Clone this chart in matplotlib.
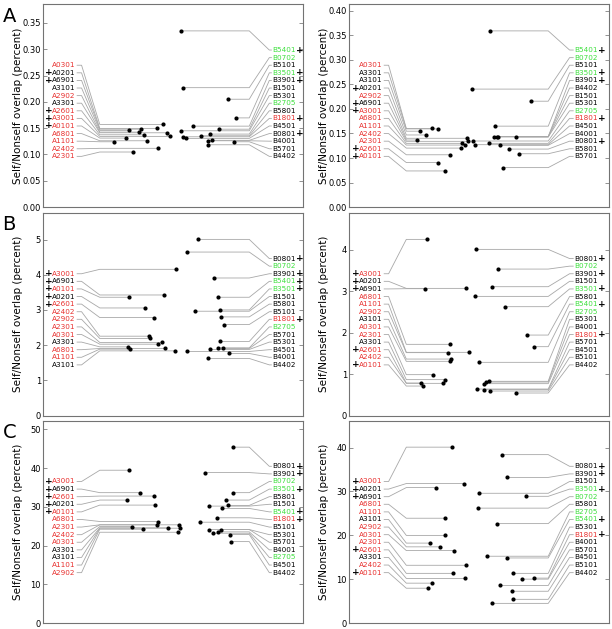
import matplotlib.pyplot as plt

# allele colouring and "+" marks
red_alleles = ['A0301', 'A2902', 'A2601', 'A3001', 'A0101', 'A6801', 'A1101',
               'A2402', 'A2301', 'B1801']
green_alleles = ['B5401', 'B0702', 'B3501', 'B2705']
plus_alleles = ['A0201', 'A6901', 'A2601', 'A3001', 'A0101',
                'B5401', 'B3501', 'B3901', 'B1801', 'B0801']

# ---- panel A, left ----
a1_A_names = ['A0301', 'A0201', 'A6901', 'A3101', 'A2902', 'A3301', 'A2601',
              'A3001', 'A0101', 'A6801', 'A1101', 'A2402', 'A2301']
a1_A_vals = [0.157, 0.1495, 0.148, 0.1457, 0.1425, 0.1412, 0.1374, 0.1343,
             0.1311, 0.126, 0.1241, 0.1116, 0.1046]
a1_A_x = [0.460, 0.439, 0.377, 0.332, 0.369, 0.478, 0.388, 0.488, 0.317,
          0.401, 0.272, 0.443, 0.345]
a1_B_names = ['B5401', 'B0702', 'B5101', 'B3501', 'B3901', 'B1501', 'B5301',
              'B2705', 'B5801', 'B1801', 'B4501', 'B0801', 'B4001', 'B5701', 'B4402']
a1_B_vals = [0.335, 0.227, 0.205, 0.1695, 0.1538, 0.148, 0.145, 0.1387,
             0.1355, 0.1336, 0.1305, 0.1268, 0.126, 0.1241, 0.1184]
a1_B_x = [0.528, 0.539, 0.709, 0.741, 0.575, 0.677, 0.528, 0.641, 0.608,
          0.539, 0.548, 0.649, 0.633, 0.733, 0.635]

# ---- panel A, right ----
a2_A_names = ['A0301', 'A3301', 'A3101', 'A0201', 'A2902', 'A6901', 'A3001',
              'A6801', 'A1101', 'A2402', 'A2301', 'A2601', 'A0101']
a2_A_vals = [0.1602, 0.1594, 0.1547, 0.147, 0.1402, 0.1367, 0.134, 0.1299,
             0.1264, 0.1202, 0.1066, 0.0907, 0.0736]
a2_A_x = [0.317, 0.342, 0.272, 0.297, 0.453, 0.261, 0.457, 0.435, 0.445,
          0.429, 0.387, 0.340, 0.370]
a2_B_names = ['B5401', 'B0702', 'B5101', 'B3501', 'B3901', 'B4402', 'B1501',
              'B5301', 'B2705', 'B1801', 'B4501', 'B4001', 'B0801', 'B5801', 'B5701']
a2_B_vals = [0.3594, 0.2406, 0.2159, 0.165, 0.1437, 0.1437, 0.1429, 0.1429,
             0.1347, 0.1299, 0.1272, 0.1258, 0.1182, 0.1087, 0.0804]
a2_B_x = [0.542, 0.474, 0.699, 0.559, 0.555, 0.574, 0.568, 0.641, 0.476,
          0.539, 0.482, 0.578, 0.615, 0.651, 0.593]

# ---- panel B, left ----
b1_A_names = ['A3001', 'A6901', 'A0101', 'A0201', 'A2601', 'A2402', 'A2902',
              'A2301', 'A0301', 'A3301', 'A6801', 'A1101', 'A3101']
b1_A_vals = [4.156, 3.427, 3.362, 3.058, 2.785, 2.255, 2.19, 2.077, 2.028,
             1.952, 1.906, 1.887, 1.838]
b1_A_x = [0.510, 0.465, 0.332, 0.390, 0.428, 0.407, 0.410, 0.455, 0.442,
          0.328, 0.470, 0.335, 0.507]
b1_B_names = ['B0801', 'B0702', 'B3901', 'B5401', 'B3501', 'B1501', 'B5801',
              'B5101', 'B1801', 'B2705', 'B5701', 'B5301', 'B4501', 'B4001', 'B4402']
b1_B_vals = [5.007, 4.647, 3.91, 3.362, 3.002, 2.965, 2.804, 2.587, 2.105,
             1.924, 1.906, 1.878, 1.821, 1.764, 1.622]
b1_B_x = [0.595, 0.552, 0.656, 0.672, 0.679, 0.585, 0.685, 0.694, 0.678,
          0.673, 0.691, 0.641, 0.554, 0.714, 0.632]

# ---- panel B, right ----
b2_A_names = ['A3001', 'A0201', 'A6901', 'A6801', 'A1101', 'A2902', 'A3101',
              'A0301', 'A2301', 'A3301', 'A2601', 'A2402', 'A0101']
b2_A_vals = [4.249, 3.067, 3.06, 1.717, 1.524, 1.517, 1.362, 1.307, 0.986,
             0.866, 0.784, 0.776, 0.711]
b2_A_x = [0.299, 0.448, 0.292, 0.387, 0.462, 0.382, 0.390, 0.386, 0.322,
          0.369, 0.276, 0.362, 0.286]
b2_B_names = ['B0801', 'B0702', 'B3901', 'B1501', 'B3501', 'B5801', 'B5401',
              'B2705', 'B5301', 'B4001', 'B1801', 'B5701', 'B4501', 'B5101', 'B4402']
b2_B_vals = [4.008, 3.533, 3.108, 2.874, 2.626, 1.941, 1.661, 1.283, 0.825,
             0.808, 0.769, 0.639, 0.625, 0.591, 0.543]
b2_B_x = [0.489, 0.573, 0.548, 0.483, 0.599, 0.684, 0.712, 0.498, 0.536,
          0.527, 0.518, 0.491, 0.520, 0.541, 0.643]

# ---- panel C, left ----
c1_A_names = ['A3001', 'A6901', 'A2601', 'A0201', 'A0101', 'A6801', 'A2301',
              'A2402', 'A0301', 'A3301', 'A3101', 'A1101', 'A2902']
c1_A_vals = [39.46, 33.68, 32.8, 31.77, 30.47, 26.24, 25.39, 25.39, 24.95,
             24.61, 24.51, 24.25, 23.47]
c1_A_x = [0.332, 0.373, 0.428, 0.321, 0.431, 0.443, 0.436, 0.523, 0.341,
          0.479, 0.526, 0.383, 0.519]
c1_B_names = ['B0801', 'B3901', 'B0702', 'B3501', 'B5801', 'B1501', 'B5401',
              'B1801', 'B5101', 'B5301', 'B5701', 'B4001', 'B2705', 'B4501', 'B4402']
c1_B_vals = [45.41, 38.86, 33.68, 31.77, 30.39, 30.21, 29.61, 27.2, 26.06,
             24.17, 24.17, 23.57, 23.21, 22.88, 21.06]
c1_B_x = [0.730, 0.622, 0.731, 0.703, 0.712, 0.639, 0.687, 0.669, 0.602,
          0.638, 0.685, 0.671, 0.653, 0.717, 0.723]

# ---- panel C, right ----
c2_A_names = ['A3001', 'A0201', 'A6901', 'A6801', 'A1101', 'A3101', 'A2902',
              'A0301', 'A2301', 'A2601', 'A3301', 'A2402', 'A0101']
c2_A_vals = [40.09, 31.81, 30.89, 23.91, 20.0, 18.25, 17.4, 16.55, 13.2,
             11.36, 10.21, 9.13, 7.98]
c2_A_x = [0.394, 0.440, 0.335, 0.369, 0.369, 0.312, 0.351, 0.402, 0.448,
          0.400, 0.446, 0.317, 0.303]
c2_B_names = ['B0801', 'B3901', 'B1501', 'B3501', 'B0702', 'B5801', 'B2705',
              'B5401', 'B5301', 'B1801', 'B4001', 'B5701', 'B4501', 'B5101', 'B4402']
c2_B_vals = [38.39, 33.2, 29.59, 28.9, 26.21, 22.69, 15.26, 14.87, 11.36,
             10.28, 10.05, 8.6, 7.29, 5.45, 4.53]
c2_B_x = [0.587, 0.607, 0.498, 0.680, 0.494, 0.570, 0.531, 0.608, 0.631,
          0.710, 0.666, 0.580, 0.627, 0.630, 0.549]

RED = '#e8302e'
GREEN = '#3ee03e'
LINE = '#a8a8a8'

# x-layout of label columns / elbows (axes fraction), one per figure column
layout = [
    dict(a_lab=0.126, a_e1=0.148, a_e2=0.218, b_e2=0.792, b_e1=0.869, b_lab=0.882),
    dict(a_lab=0.130, a_e1=0.152, a_e2=0.220, b_e2=0.765, b_e1=0.847, b_lab=0.866),
]


def colour(name):
    if name in red_alleles:
        return RED
    if name in green_alleles:
        return GREEN
    return 'black'


def draw_group(ax, names, vals, xs, ytop, lay, left):
    n = len(names)
    for i, (nm, v, x) in enumerate(zip(names, vals, xs)):
        ylab = ytop * (0.25 + 0.0375 * (n - 1 - i))
        if left:
            ax.plot([lay['a_lab'] + 0.005, lay['a_e1'], lay['a_e2'], x],
                    [ylab, ylab, v, v], color=LINE, lw=0.6, zorder=1)
            t = ax.text(lay['a_lab'], ylab, nm, ha='right', va='center',
                        color=colour(nm), fontsize=5.2)
            if nm in plus_alleles:
                ax.annotate('+', xy=(0, 0.5), xycoords=t, ha='right', va='center',
                            fontsize=6.5, fontweight='bold', color='black')
        else:
            ax.plot([x, lay['b_e2'], lay['b_e1'], lay['b_lab'] - 0.005],
                    [v, v, ylab, ylab], color=LINE, lw=0.6, zorder=1)
            t = ax.text(lay['b_lab'], ylab, nm, ha='left', va='center',
                        color=colour(nm), fontsize=5.2)
            if nm in plus_alleles:
                ax.annotate('+', xy=(1, 0.5), xycoords=t, ha='left', va='center',
                            fontsize=6.5, fontweight='bold', color='black')
    ax.plot(xs, vals, 'o', color='black', ms=3, mec='none', zorder=3)


panels = [
    (a1_A_names, a1_A_vals, a1_A_x, a1_B_names, a1_B_vals, a1_B_x),
    (a2_A_names, a2_A_vals, a2_A_x, a2_B_names, a2_B_vals, a2_B_x),
    (b1_A_names, b1_A_vals, b1_A_x, b1_B_names, b1_B_vals, b1_B_x),
    (b2_A_names, b2_A_vals, b2_A_x, b2_B_names, b2_B_vals, b2_B_x),
    (c1_A_names, c1_A_vals, c1_A_x, c1_B_names, c1_B_vals, c1_B_x),
    (c2_A_names, c2_A_vals, c2_A_x, c2_B_names, c2_B_vals, c2_B_x),
]
panel_letters = ['A', 'B', 'C']

fig = plt.figure(figsize=(6.12, 6.29), dpi=100)
row_bottoms = [0.6709, 0.3394, 0.0091]
col_lefts = [0.0703, 0.5703]

for k, (an, av, ax_, bn, bv, bx) in enumerate(panels):
    row, col = divmod(k, 2)
    ax = fig.add_axes([col_lefts[col], row_bottoms[row], 0.4255, 0.322])
    ytop = 1.15 * max(max(av), max(bv))
    draw_group(ax, an, av, ax_, ytop, layout[col], True)
    draw_group(ax, bn, bv, bx, ytop, layout[col], False)
    ax.set_xlim(0, 1)
    ax.set_ylim(0, ytop)
    ax.set_xticks([])
    ax.tick_params(axis='y', direction='in', right=True, left=True,
                   labelsize=6, length=3, width=0.5, color='0.4', pad=1.5)
    for s in ax.spines.values():
        s.set_color('0.45')
        s.set_linewidth(0.8)
    ax.set_ylabel('Self/Nonself overlap (percent)', fontsize=7.5)
    ax.yaxis.set_label_coords(-0.078, 0.5)
    if col == 0:
        fig.text(0.004, (row_bottoms[row] + 0.322) - 0.004, panel_letters[row],
                 fontsize=14, va='top', ha='left')

fig.savefig('out.png', dpi=100)
